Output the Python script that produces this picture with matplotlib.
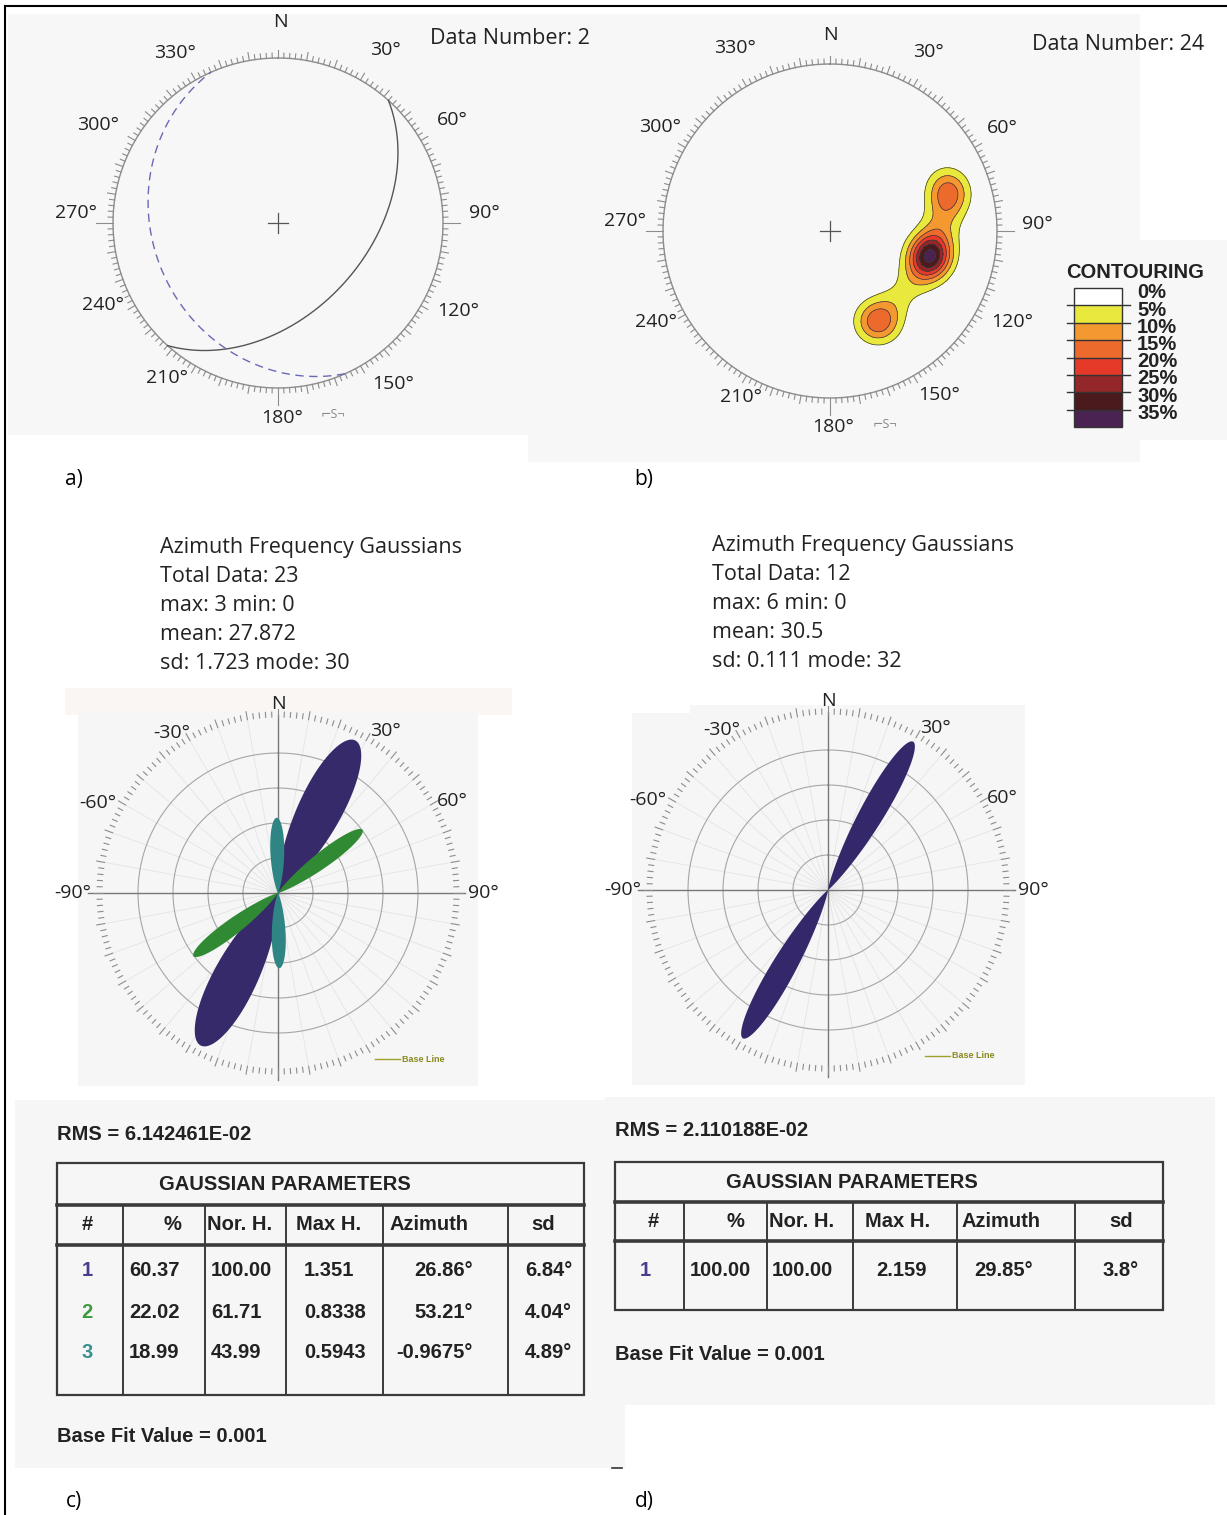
import numpy as np
import matplotlib
matplotlib.use('Agg')
import matplotlib.pyplot as plt
from matplotlib.patches import Rectangle

W, H = 1227, 1515
SANS = ['Open Sans', 'DejaVu Sans']
ARIAL = ['Liberation Sans', 'DejaVu Sans']

# ---------------- data ----------------
# a) great circles (strike, dip) of the two planes
plane_strike = [42, 156]
plane_dip = [45, 25]
data_number_a = 2

# b) poles (trend, plunge) used for the density contours
pole_trend = [111.5, 109.2, 107.0, 104.7, 102.5, 100.3, 98.1, 106.0, 103.3, 101.7,
              90.0, 83.9,
              76.5, 74.5, 72.4, 70.4, 67.5,
              122.4, 136.7,
              151.9, 154.9, 148.8, 154.5, 150.1]
pole_plunge = [38.9, 38.9, 38.8, 38.6, 38.4, 38.0, 37.6, 36.5, 40.7, 36.0,
               35.0, 32.5,
               28.8, 26.9, 25.6, 25.9, 25.8,
               41.5, 41.9,
               38.8, 37.9, 39.6, 41.2, 35.4]
data_number_b = 24
contour_levels = [0, 5, 10, 15, 20, 25, 30, 35]
contour_colors = ['#ffffff', '#e9e83c', '#f4992f', '#ed6a2d', '#e5392a',
                  '#93272a', '#4a1a1c', '#4b2352']

# c) azimuth frequency gaussians
stats_c = dict(total=23, vmax=3, vmin=0, mean=27.872, sd=1.723, mode=30)
rms_c = 6.142461e-02
pct_c = [60.37, 22.02, 18.99]
norh_c = [100.00, 61.71, 43.99]
maxh_c = [1.351, 0.8338, 0.5943]
azim_c = [26.86, 53.21, -0.9675]
sd_c = [6.84, 4.04, 4.89]
petal_colors_c = ['#362a6a', '#2f8a33', '#2f8583']
num_colors_c = ['#4b3b8c', '#3c9a3c', '#3a8f8f']

# d)
stats_d = dict(total=12, vmax=6, vmin=0, mean=30.5, sd=0.111, mode=32)
rms_d = 2.110188e-02
pct_d = [100.00]
norh_d = [100.00]
maxh_d = [2.159]
azim_d = [29.85]
sd_d = [3.8]
petal_colors_d = ['#35286a']
num_colors_d = ['#4b3b8c']
base_fit = 0.001

# ---------------- figure ----------------
fig = plt.figure(figsize=(W / 100, H / 100), dpi=100)
cv = fig.add_axes([0, 0, 1, 1])
cv.set_xlim(0, W)
cv.set_ylim(H, 0)
cv.axis('off')


def bg(x0, y0, x1, y1, c='#f7f7f7'):
    cv.add_patch(Rectangle((x0, y0), x1 - x0, y1 - y0, color=c, lw=0, zorder=0))


# panel backgrounds
bg(8, 14, 600, 435)
bg(528, 14, 1140, 462)
bg(1050, 240, 1227, 440)
bg(65, 688, 512, 715, '#faf6f4')
bg(78, 712, 478, 1086, '#f6f6f6')
bg(690, 705, 1025, 713, '#f6f6f6')
bg(632, 713, 1025, 1085, '#f6f6f6')
bg(15, 1100, 625, 1468, '#f6f6f6')
bg(605, 1097, 1215, 1405, '#f6f6f6')

# frame lines
cv.plot([5, 5], [6, H], color='k', lw=1.5)
cv.plot([5, W], [6, 6], color='k', lw=1.5)
cv.plot([612, 622], [1468, 1468], color='#333', lw=1.2)


def sub_axes(cx, cy, half):
    ax = fig.add_axes([(cx - half) / W, 1 - (cy + half) / H, 2 * half / W, 2 * half / H])
    ax.set_xlim(-half, half)
    ax.set_ylim(-half, half)
    ax.axis('off')
    return ax


def equal_area(trend, plunge, R):
    r = R * np.sqrt(2) * np.sin(np.radians(90 - np.asarray(plunge, float)) / 2)
    t = np.radians(np.asarray(trend, float))
    return r * np.sin(t), r * np.cos(t)


def great_circle(strike, dip, R):
    s = np.radians(strike)
    d = np.radians(dip)
    t = np.linspace(0, np.pi, 300)
    sv = np.array([np.sin(s), np.cos(s), 0])
    dv = np.array([np.sin(s + np.pi / 2) * np.cos(d), np.cos(s + np.pi / 2) * np.cos(d), np.sin(d)])
    v = np.outer(np.cos(t), sv) + np.outer(np.sin(t), dv)
    plunge = np.degrees(np.arcsin(np.clip(v[:, 2], -1, 1)))
    trend = np.degrees(np.arctan2(v[:, 0], v[:, 1]))
    return equal_area(trend, plunge, R)


# where the program puts the ring labels (px offsets from the net centre)
labpos_a = {0: (2, 201), 30: (107, 173), 60: (174, 103), 90: (206, 10), 120: (180, -88),
            150: (115, -161), 180: (4, -195), 210: (-111, -155), 240: (-175, -82),
            270: (-202, 10), 300: (-180, 98), 330: (-103, 170)}
labpos_b = {0: (0, 196), 30: (98, 179), 60: (172, 103), 90: (207, 7), 120: (182, -91),
            150: (109, -164), 180: (3, -196), 210: (-89, -166), 240: (-174, -91),
            270: (-205, 10), 300: (-170, 104), 330: (-95, 183)}


def draw_net(ax, R, labpos):
    th = np.linspace(0, 2 * np.pi, 500)
    ax.plot(R * np.sin(th), R * np.cos(th), color='#8c8c8c', lw=1)
    for a in range(0, 360, 2):
        L = 5
        if a % 10 == 0:
            L = 8
        if a in (90, 180, 270):
            L = 17
        ar = np.radians(a)
        ax.plot([R * np.sin(ar), (R + L) * np.sin(ar)], [R * np.cos(ar), (R + L) * np.cos(ar)],
                color='#8c8c8c', lw=0.8)
    ax.plot([-10, 10], [0, 0], color='#555', lw=0.9)
    ax.plot([0, 0], [-10, 10], color='#555', lw=0.9)
    for a, (x, y) in labpos.items():
        ax.text(x, y, 'N' if a == 0 else f'{a}°', ha='center', va='center',
                fontsize=14, family=SANS, color='#222')
    ax.text(55, -R - 27, '⌐S¬', ha='center', va='center', fontsize=9, color='#888', family=SANS)


# ---- a) ----
Ra = 165
axa = sub_axes(278, 223, 230)
draw_net(axa, Ra, labpos_a)
x, y = great_circle(plane_strike[0], plane_dip[0], Ra)
axa.plot(x, y, color='#555', lw=1)
x, y = great_circle(plane_strike[1], plane_dip[1], Ra)
axa.plot(x, y, color='#6a6ab4', lw=1, ls=(0, (6, 4)))
cv.text(430, 38, f'Data Number: {data_number_a}', fontsize=15.5, family=SANS, va='center', color='#222')

# ---- b) ----
Rb = 167
axb = sub_axes(830, 231, 230)
g = np.linspace(-Rb, Rb, 400)
X, Y = np.meshgrid(g, g)
px, py = equal_area(pole_trend, pole_plunge, Rb)
h = 14.0
dens = np.zeros_like(X)
for a, b in zip(px, py):
    dens += np.exp(-((X - a) ** 2 + (Y - b) ** 2) / (2 * h * h))
dens = dens * 100 / len(px)
dens[X ** 2 + Y ** 2 > Rb ** 2] = 0
axb.contourf(X, Y, dens, levels=contour_levels[1:] + [1000], colors=contour_colors[1:])
axb.contour(X, Y, dens, levels=contour_levels[1:], colors='#3a3a3a', linewidths=0.5)
draw_net(axb, Rb, labpos_b)
cv.text(1032, 44, f'Data Number: {data_number_b}', fontsize=15.5, family=SANS, va='center', color='#222')

# contour legend
cv.text(1135, 273, 'CONTOURING', ha='center', va='center', fontsize=14.5, weight='bold', family=ARIAL, color='#222')
top, step = 288, 17.4
for i, (lv, c) in enumerate(zip(contour_levels, contour_colors)):
    cv.add_patch(Rectangle((1074, top + i * step), 48, step, color=c, lw=0, zorder=2))
    cv.text(1137, 293 + i * 17.2, f'{lv}%', va='center', fontsize=14.5, weight='bold',
            family=ARIAL, color='#222', zorder=3)
    if i > 0:
        cv.plot([1067, 1130], [top + i * step] * 2, color='#333', lw=1, zorder=3)
cv.add_patch(Rectangle((1074, top), 48, 8 * step, fill=False, ec='#333', lw=1, zorder=3))

cv.text(74, 480, 'a)', ha='center', va='center', fontsize=15, family=SANS)
cv.text(644, 480, 'b)', ha='center', va='center', fontsize=15, family=SANS)
cv.text(74, 1502, 'c)', ha='center', va='center', fontsize=15, family=SANS)
cv.text(644, 1502, 'd)', ha='center', va='center', fontsize=15, family=SANS)


# ---- c) and d) roses ----
def header(x, y0, st):
    lines = ['Azimuth Frequency Gaussians',
             f"Total Data: {st['total']}",
             f"max: {st['vmax']} min: {st['vmin']}",
             f"mean: {st['mean']}",
             f"sd: {st['sd']} mode: {st['mode']}"]
    for i, s in enumerate(lines):
        cv.text(x, y0 + i * 28.8, s, fontsize=15.5, family=SANS, va='center', color='#222')


rose_labels = [(-90, -90, 205), (-60, -63.5, 201), (-30, -33.5, 192), (0, 0, 189),
               (30, 33.5, 194), (60, 62, 197), (90, 90, 205)]


def draw_rose(ax, az, sd, norh, colors):
    Rmax, Rt = 171, 176
    for a in range(0, 360, 10):
        ar = np.radians(a)
        ax.plot([0, Rt * np.sin(ar)], [0, Rt * np.cos(ar)], color='#e4e4e4', lw=0.6, zorder=1)
    th = np.linspace(0, 2 * np.pi, 400)
    for r in (35, 70, 105, 140):
        ax.plot(r * np.sin(th), r * np.cos(th), color='#a6a6a6', lw=0.8, zorder=1)
    ax.plot([-190, 187], [0, 0], color='#777', lw=1, zorder=1)
    ax.plot([0, 0], [-187, 178], color='#777', lw=1, zorder=1)
    for a in range(0, 360, 2):
        L = 8 if a % 10 == 0 else 5
        ar = np.radians(a)
        ax.plot([Rt * np.sin(ar), (Rt + L) * np.sin(ar)], [Rt * np.cos(ar), (Rt + L) * np.cos(ar)],
                color='#8c8c8c', lw=0.8)
    spread = 1.8
    for m, s, hgt, c in zip(az, sd, norh, colors):
        sg = s * spread
        t = np.linspace(-4 * sg, 4 * sg, 300)
        r = hgt / 100 * Rmax * np.exp(-t ** 2 / (2 * sg ** 2))
        for off in (0, 180):
            ang = np.radians(m + off + t)
            ax.fill(r * np.sin(ang), r * np.cos(ang), color=c, lw=0, zorder=3)
    for a, pos, rr in rose_labels:
        ar = np.radians(pos)
        ax.text(rr * np.sin(ar), rr * np.cos(ar), 'N' if a == 0 else f'{a}°', ha='center',
                va='center', fontsize=14, family=SANS, color='#222')
    ax.plot([97, 122], [-166, -166], color='#a0a030', lw=1)
    ax.text(124, -166, 'Base Line', fontsize=6.5, weight='bold', family=ARIAL,
            color='#8a8a20', va='center')


header(160, 548, stats_c)
axc = sub_axes(278, 893, 215)
draw_rose(axc, azim_c, sd_c, norh_c, petal_colors_c)

header(712, 546, stats_d)
axd = sub_axes(828, 890, 215)
draw_rose(axd, azim_d, sd_d, norh_d, petal_colors_d)


# ---- tables ----
def table(xs, ytop, ytitle, yhead, ybot, title_x, rows_y, rms, rms_y, fit_y,
          pct, norh, maxh, azim, sd, ncol, head_pos, val_pos):
    tc = '#3a3a3a'
    fs = 14.5
    cv.text(xs[0], rms_y, f'RMS = {rms:.6E}', fontsize=fs, weight='bold', family=ARIAL,
            va='center', color='#222')
    cv.add_patch(Rectangle((xs[0], ytop), xs[-1] - xs[0], ybot - ytop, fill=False, ec=tc, lw=1.6))
    cv.plot([xs[0], xs[-1]], [ytitle, ytitle], color=tc, lw=2.6)
    cv.plot([xs[0], xs[-1]], [yhead, yhead], color=tc, lw=2.6)
    for x in xs[1:-1]:
        cv.plot([x, x], [ytitle, ybot], color=tc, lw=1.4)
    cv.text(title_x, (ytop + ytitle) / 2, 'GAUSSIAN PARAMETERS', ha='center', va='center',
            fontsize=fs, weight='bold', family=ARIAL, color='#222')
    heads = ['#', '%', 'Nor. H.', 'Max H.', 'Azimuth', 'sd']
    for hd, (hx, ha) in zip(heads, head_pos):
        cv.text(hx, (ytitle + yhead) / 2, hd, ha=ha, va='center', fontsize=fs, weight='bold',
                family=ARIAL, color='#222')
    for i in range(len(pct)):
        vals = [str(i + 1), f'{pct[i]:.2f}', f'{norh[i]:.2f}', f'{maxh[i]:.4g}',
                f'{azim[i]:.4g}°', f'{sd[i]:.3g}°']
        for j, (v, (vx, ha)) in enumerate(zip(vals, val_pos)):
            cv.text(vx, rows_y[i], v, ha=ha, va='center', fontsize=fs, weight='bold',
                    family=ARIAL, color=ncol[i] if j == 0 else '#222')
    cv.text(xs[0], fit_y, f'Base Fit Value = {base_fit}', fontsize=fs, weight='bold',
            family=ARIAL, va='center', color='#222')


table([57, 123, 205, 286, 383, 508, 584], 1163, 1205, 1245, 1395, 285,
      [1271, 1312, 1353], rms_c, 1134, 1437,
      pct_c, norh_c, maxh_c, azim_c, sd_c, num_colors_c,
      [(87, 'center'), (172, 'center'), (207, 'left'), (296, 'left'), (390, 'left'), (543, 'center')],
      [(87, 'center'), (129, 'left'), (211, 'left'), (304, 'left'), (473, 'right'), (572, 'right')])

table([615, 684, 767, 853, 957, 1075, 1163], 1162, 1202, 1241, 1310, 852,
      [1270], rms_d, 1131, 1354,
      pct_d, norh_d, maxh_d, azim_d, sd_d, num_colors_d,
      [(653, 'center'), (735, 'center'), (769, 'left'), (865, 'left'), (962, 'left'), (1121, 'center')],
      [(645, 'center'), (690, 'left'), (772, 'left'), (876, 'left'), (1033, 'right'), (1139, 'right')])

fig.savefig('out.png', dpi=100)
